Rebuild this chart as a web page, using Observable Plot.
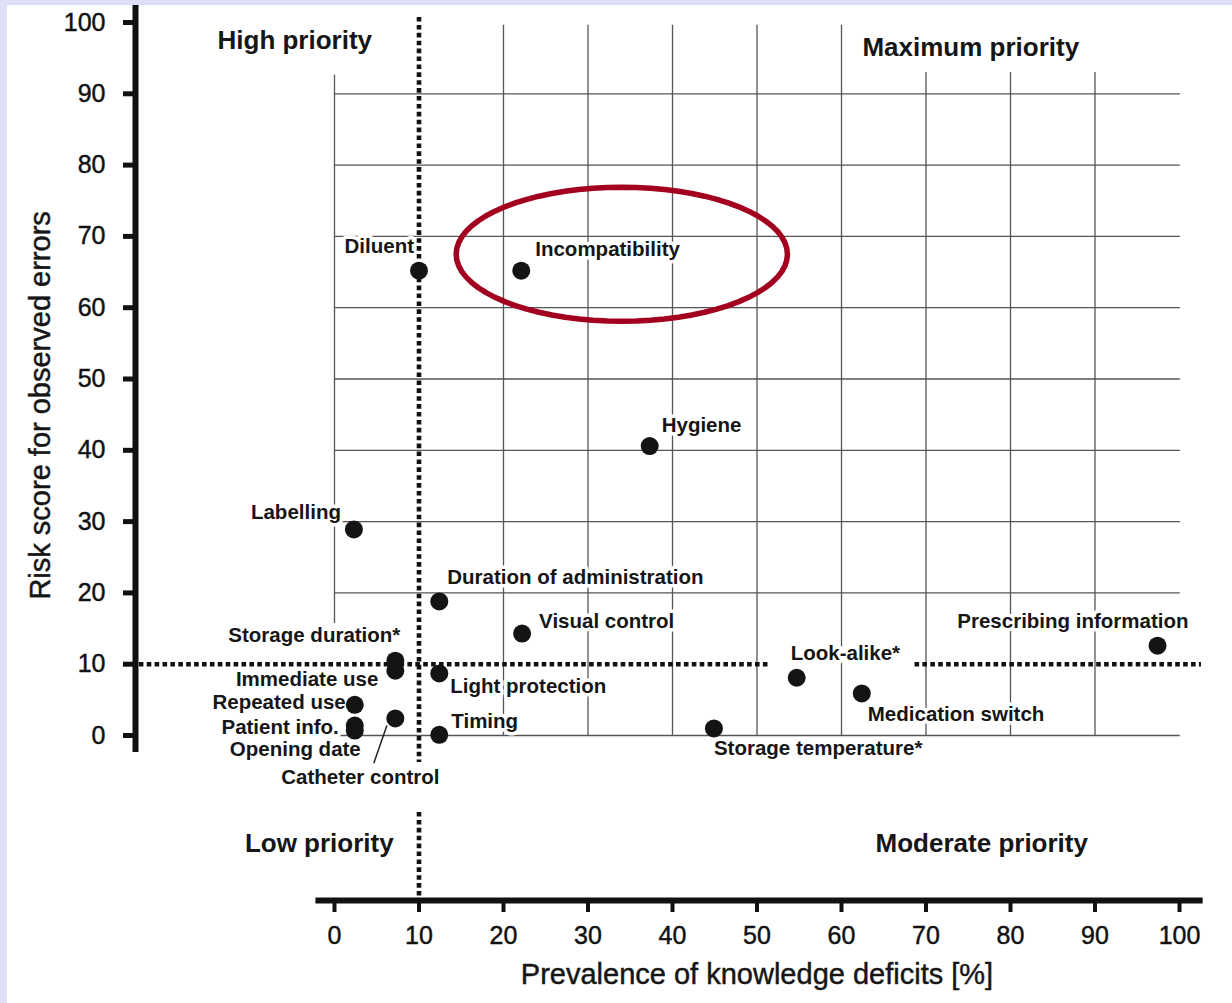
<!DOCTYPE html>
<html>
<head>
<meta charset="utf-8">
<script src="https://cdn.jsdelivr.net/npm/d3@7"></script>
<script src="https://cdn.jsdelivr.net/npm/@observablehq/plot@0.6"></script>
<style>
  html, body { margin: 0; padding: 0; background: #dfdff7; }
  #chart { position: absolute; left: 7px; top: 5px; width: 1225px; height: 998px; background: #ffffff; }
  #chart svg g[aria-label="y-axis tick label"] text,
  #chart svg g[aria-label="x-axis tick label"] text { stroke: #111; stroke-width: 0.45px; }
  #chart svg g.heavy text { stroke: #161616; stroke-width: 0.45px; }
</style>
</head>
<body>
<div id="chart"></div>
<script>
// ---- Data ----
const names = ["Diluent", "Incompatibility", "Hygiene", "Labelling", "Duration of administration",
  "Visual control", "Prescribing information", "Storage duration*", "Immediate use", "Light protection",
  "Look-alike*", "Medication switch", "Repeated use", "Patient info.", "Opening date",
  "Catheter control", "Timing", "Storage temperature*"];
const prevalence = [10.0, 22.1, 37.3, 2.3, 12.4, 22.2, 97.4, 7.2, 7.2, 12.4,
  54.7, 62.4, 2.4, 2.4, 2.4, 7.2, 12.4, 44.9];
const riskScore = [65.2, 65.2, 40.6, 28.9, 18.8, 14.3, 12.6, 10.5, 9.1, 8.7,
  8.1, 5.9, 4.3, 1.4, 0.7, 2.4, 0.1, 1.0];

const xTicks = [0, 10, 20, 30, 40, 50, 60, 70, 80, 90, 100];
const yTicks = [0, 10, 20, 30, 40, 50, 60, 70, 80, 90, 100];
const xThreshold = 10;
const yThreshold = 10;

const xTitle = "Prevalence of knowledge deficits [%]";
const yTitle = "Risk score for observed errors";
const quadrantNames = ["High priority", "Maximum priority", "Low priority", "Moderate priority"];

// ---- Layout (label placement, annotations) ----
const labelAnchor = ["end", "start", "start", "end", "start", "start", "end", "end", "end", "start",
  "start", "start", "end", "end", "end", "middle", "start", "start"];
const labelDx = [-5, 14, 12, -13, 8, 17, 31, 5, -17, 11, -6, 6, -9, -16, 6, -35, 12, 0];
const labelDy = [-24, -21, -21, -17, -24, -12, -24, -25, 9, 13, -24, 21, -2, 2, 19, 59, -13, 20];
const quadrantPos = [[-4.7, 97.5], [75.3, 96.4], [-1.8, -15.1], [76.6, -15.1]];

const points = names.map((n, i) => ({name: n, x: prevalence[i], y: riskScore[i],
  anchor: labelAnchor[i], dx: labelDx[i], dy: labelDy[i]}));
const quadrants = quadrantNames.map((q, i) => ({label: q, x: quadrantPos[i][0], y: quadrantPos[i][1]}));

const X0 = -23.55, Y0 = -23.14;
const gridColor = "#555";

// vertical grid segments
const vGrid = [
  {x: 0, y1: 15.7, y2: 92.6},
  ...[20, 30, 40, 50, 60].map(v => ({x: v, y1: 0, y2: 99.6})),
  ...[70, 80, 90].map(v => ({x: v, y1: 0, y2: 93}))
];
const hGrid = [0, 20, 30, 40, 50, 60, 70, 80, 90];

// highlight ellipse around "Incompatibility"
const ell = {cx: 34.0, cy: 67.5, rx: 19.6, ry: 9.4};
const ellipsePts = d3.range(0, 73).map(k => {
  const t = (k / 72) * 2 * Math.PI;
  return {x: ell.cx + ell.rx * Math.cos(t), y: ell.cy + ell.ry * Math.sin(t)};
});

const FONT = "'Liberation Sans', Arial, Helvetica, sans-serif";
const dotted = {stroke: "#111", strokeWidth: 4.6, strokeDasharray: "4.6,3.3"};

const labelMarks = points.map(p => Plot.text([p], {
  x: "x", y: "y", text: "name", textAnchor: p.anchor, dx: p.dx, dy: p.dy,
  fontSize: 20.5, fontWeight: "bold", fill: "#161616",
  stroke: "white", strokeWidth: 7, paintOrder: "stroke"
}));

const chart = Plot.plot({
  width: 1225,
  height: 998,
  marginLeft: 128,
  marginRight: 53,
  marginTop: 17,
  marginBottom: 103,
  style: {fontFamily: FONT, background: "white", color: "#111"},
  x: {domain: [X0, 100]},
  y: {domain: [Y0, 100]},
  marks: [
    // grid
    Plot.ruleX(vGrid, {x: "x", y1: "y1", y2: "y2", stroke: gridColor, strokeWidth: 1.3}),
    Plot.ruleY(hGrid, {y: d => d, x1: 0, x2: 100.1, stroke: gridColor, strokeWidth: 1.3}),
    // point labels with white halo
    ...labelMarks,
    // threshold dotted lines
    Plot.ruleX([xThreshold], {y1: 100.7, y2: -3.8, ...dotted}),
    Plot.ruleX([xThreshold], {y1: -10.8, y2: Y0, ...dotted}),
    Plot.ruleY([yThreshold], {x1: -23.1, x2: 51.5, ...dotted}),
    Plot.ruleY([yThreshold], {x1: 68.7, x2: 102.6, ...dotted}),
    // leader line for Catheter control
    Plot.link([points[15]], {x1: d => d.x - 1.0, y1: d => d.y - 1.0, x2: d => d.x - 2.55, y2: d => d.y - 6.3,
      stroke: "#222", strokeWidth: 1.5}),
    // dots
    Plot.dot(points, {x: "x", y: "y", r: 9, fill: "#141414"}),
    // highlight ellipse
    Plot.line(ellipsePts, {x: "x", y: "y", stroke: "#a3001f", strokeWidth: 5.5, curve: "linear-closed"}),
    // axes
    Plot.ruleX([X0], {y1: -2.4, y2: 102.4, stroke: "#111", strokeWidth: 6}),
    Plot.ruleY([Y0], {x1: -2.2, x2: 102.8, stroke: "#111", strokeWidth: 6}),
    Plot.axisY({ticks: yTicks, anchor: "left", tickSize: 12, tickPadding: 18, strokeWidth: 5,
      fontSize: 25, label: null, color: "#111"}),
    Plot.axisX({ticks: xTicks, anchor: "bottom", tickSize: 12, tickPadding: 14, strokeWidth: 4,
      fontSize: 25, label: null, color: "#111"}),
    // axis titles
    Plot.text([xTitle], {x: 50, y: -33.6, text: d => d, fontSize: 29, fill: "#161616", className: "heavy"}),
    Plot.text([yTitle], {x: -34.8, y: 46.3, text: d => d, rotate: -90, fontSize: 29, fill: "#161616", className: "heavy"}),
    // quadrant labels
    Plot.text(quadrants, {x: "x", y: "y", text: "label", fontSize: 26, fontWeight: "bold", fill: "#161616"})
  ]
});

document.getElementById("chart").appendChild(chart);
</script>
</body>
</html>
